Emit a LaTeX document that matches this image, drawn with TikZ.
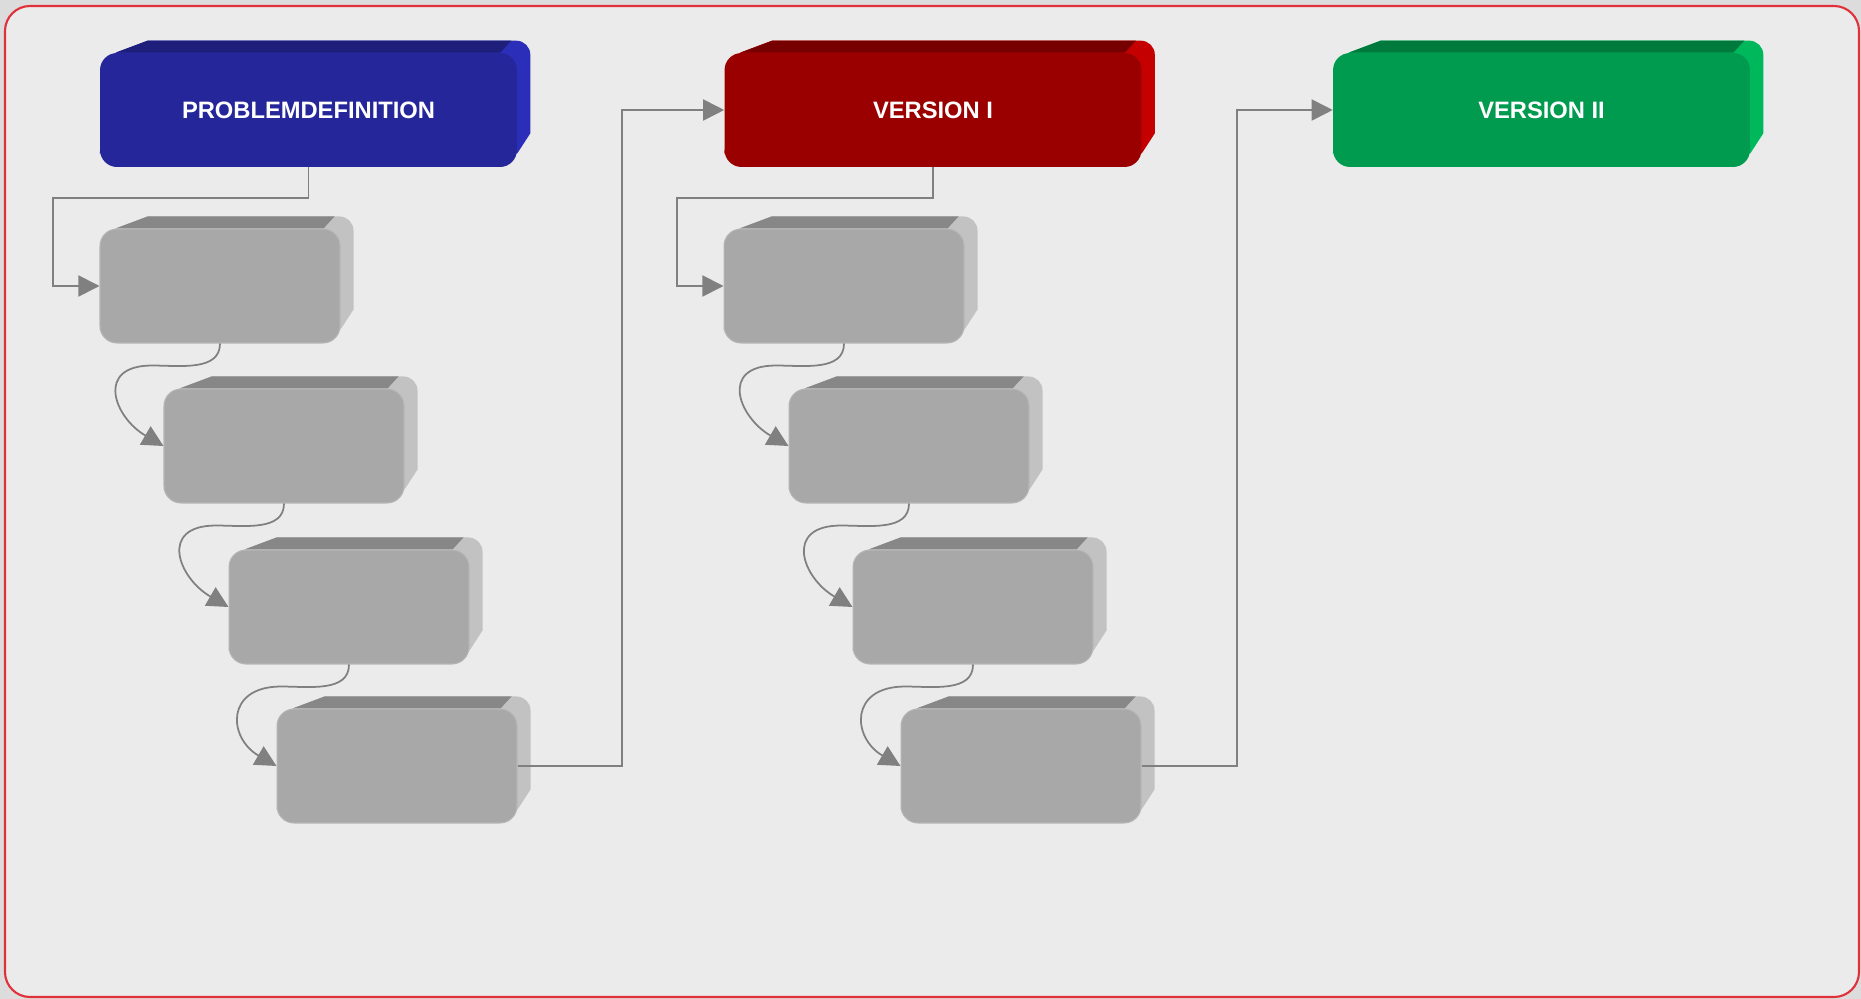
\documentclass[tikz,border=0pt]{standalone}
\usepackage{xcolor}
\usepackage{fontspec}
\setmainfont{Liberation Sans}
\usepackage{tikz}
\usetikzlibrary{arrows.meta, positioning, calc}
\definecolor{pagegray}{HTML}{DCDCDC}
\definecolor{panelgray}{HTML}{EBEBEB}
\definecolor{framered}{HTML}{E0303A}
\definecolor{linegray}{HTML}{808080}
\definecolor{blueface}{HTML}{25269A}
\definecolor{bluetop}{HTML}{1E1F7A}
\definecolor{blueside}{HTML}{2B2EB8}
\definecolor{redface}{HTML}{9B0000}
\definecolor{redtop}{HTML}{760000}
\definecolor{redside}{HTML}{C40000}
\definecolor{greenface}{HTML}{009B4F}
\definecolor{greentop}{HTML}{007A3C}
\definecolor{greenside}{HTML}{00B85C}
\definecolor{grayface}{HTML}{A8A8A8}
\definecolor{graytop}{HTML}{878787}
\definecolor{grayside}{HTML}{C2C2C2}
\pgfdeclarelayer{bg}
\pgfdeclarelayer{depth}
\pgfsetlayers{bg,depth,main}
\tikzstyle{phase} = [rectangle, rounded corners=0.34cm, minimum width=8.34cm, minimum height=2.28cm, inner sep=0pt, text centered, text=white, font=\bfseries\fontsize{13.5}{16}\selectfont]
\tikzstyle{step box} = [rectangle, rounded corners=0.34cm, minimum width=4.8cm, minimum height=2.28cm, inner sep=0pt, fill=grayface, draw=grayface!85!white, line width=0.6pt]
\tikzstyle{arrow} = [line width=1pt, draw=linegray, -{Triangle[length=12pt, width=12pt]}]
\tikzstyle{frame} = [draw=framered, line width=1.2pt, fill=panelgray, rounded corners=0.5cm]
% back and side of a box
\newcommand{\extrude}[3]{%
  \fill[#3] ($(#1.north west)+(16,0)$) -- ($(#1.north west)+(48,12)$) [rounded corners=8pt] -- ($(#1.north east)+(13,12)$) [sharp corners] -- ($(#1.south east)+(13,34)$) -- ($(#1.south east)+(0,14)$) -- ($(#1.south west)+(0,14)$) -- cycle;
  \fill[#2] ($(#1.north west)+(16,0)$) -- ($(#1.north west)+(48,12)$) -- ($(#1.north east)+(-6,12)$) -- ($(#1.north east)+(-17,0)$) -- cycle;
}

\begin{document}
\begin{tikzpicture}[x=0.02cm, y=0.02cm]
\useasboundingbox (0,0) rectangle (1861,-999);
\begin{pgfonlayer}{bg}
\fill[pagegray] (0,0) rectangle (1861,-999);
\draw[frame] (5,-6) rectangle (1859,-997);
\end{pgfonlayer}

\node (pd) [phase, fill=blueface] at (308.5,-110) {PROBLEMDEFINITION};
\node (v1) [phase, fill=redface] at (933,-110) {VERSION I};
\node (v2) [phase, fill=greenface] at (1541.5,-110) {VERSION II};

\node (a1) [step box] at (220,-286) {};
\node (a2) [step box] at (284,-446) {};
\node (a3) [step box] at (349,-607) {};
\node (a4) [step box] at (397,-766) {};
\node (b1) [step box] at (844,-286) {};
\node (b2) [step box] at (909,-446) {};
\node (b3) [step box] at (973,-607) {};
\node (b4) [step box] at (1021,-766) {};

\begin{pgfonlayer}{depth}
\extrude{pd}{bluetop}{blueside}
\extrude{v1}{redtop}{redside}
\extrude{v2}{greentop}{greenside}
\foreach \n in {a1,a2,a3,a4,b1,b2,b3,b4}
  \extrude{\n}{graytop}{grayside};
\end{pgfonlayer}

\coordinate (pdturn) at (53,-198);
\coordinate (v1turn) at (677,-198);
\coordinate (up1) at (622,-110);
\coordinate (up2) at (1237,-110);

\draw [arrow] (pd.south) |- (pdturn) |- (a1.west);
\draw [arrow] (v1.south) |- (v1turn) |- (b1.west);
\foreach \i/\j in {a1/a2,a2/a3,a3/a4,b1/b2,b2/b3,b3/b4}
  \draw [arrow] (\i.south) to[out=-90, in=0] ++(-68,-22) to[out=180, in=150, looseness=1.8] (\j.west);
% up to the next version
\draw [arrow] (a4.east) -| (up1) -- (v1.west);
\draw [arrow] (b4.east) -| (up2) -- (v2.west);
\end{tikzpicture}
\end{document}
